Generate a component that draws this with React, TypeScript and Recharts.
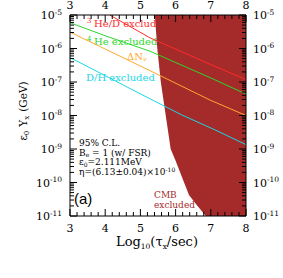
import { Area, ComposedChart, Customized, Line, XAxis, YAxis } from "recharts";

// BBN / CMB 제한 그림 (a) — log10 값으로 그리고 눈금은 10^n 으로 표기
const RED = "#ff2a2a";
const GREEN = "#2ed62e";
const ORANGE = "#ffa830";
const CYAN = "#1ad6e6";
const CMB = "#a52a2a";
const SERIF = "DejaVu Serif";

// 눈금
const xMajor = [3, 4, 5, 6, 7, 8];
const yMajor = [-11, -10, -9, -8, -7, -6, -5];
const yMinorMant = [2, 3, 4, 5, 6, 7, 8, 9];

const xTicks: number[] = [];
for (let i = 0; i <= (xMajor[xMajor.length - 1] - xMajor[0]) * 5; i++)
  xTicks.push(Math.round((xMajor[0] + i * 0.2) * 10) / 10);
const yTicks: number[] = [...yMajor];
yMajor.slice(0, -1).forEach((d) => yMinorMant.forEach((m) => yTicks.push(d + Math.log10(m))));

// CMB excluded 경계 (log10 τ, log10 εY 하한)
const cmbTau = [5.41, 5.48, 5.58, 5.72, 5.86, 6.0, 6.13, 6.38, 6.6, 6.86, 8];
const cmbLow = [-5, -6, -7, -8, -9, -9.35, -9.7, -10.37, -10.67, -11, -11];

// 선들 (log10 τ, log10 εY)
const heDTau = [4.13, 5.27, 6.98, 8];
const heDLog = [-5, -5.68, -6.47, -6.93];
const he4Tau = [3, 4, 5.27, 6.98, 8];
const he4Log = [-5.23, -5.62, -6.08, -6.87, -7.36];
const dnTau = [3, 5.27, 6.98, 8];
const dnLog = [-5.51, -6.66, -7.54, -8.0];
const dhTau = [3, 5.27, 6.17, 7.12, 8];
const dhLog = [-6.27, -7.5, -7.98, -8.43, -8.87];

const rows = (xs: number[], ys: number[]) => xs.map((tau, i) => ({ tau, v: ys[i] }));
const cmbRows = cmbTau.map((tau, i) => ({ tau, range: [cmbLow[i], -5] }));

const isMajor = (v: number) => Math.abs(v - Math.round(v)) < 1e-6;

function Pow({ n, x, y, anchor }: { n: number; x: number; y: number; anchor: "start" | "end" }) {
  return (
    <text x={x} y={y} textAnchor={anchor} fontFamily={SERIF} fontSize={11} fill="#000">
      10
      <tspan dy={-4.5} fontSize={7.5}>
        {`-${Math.abs(Math.round(n))}`}
      </tspan>
    </text>
  );
}

function AxisTick(props: any) {
  const { x, y, payload, side } = props;
  const v = payload.value as number;
  const major = isMajor(v);
  const len = major ? 7 : 4;
  if (side === "bottom" || side === "top") {
    const dir = side === "bottom" ? -1 : 1;
    return (
      <g>
        <line x1={x} y1={y} x2={x} y2={y + dir * len} stroke="#000" />
        {major && (
          <text
            x={x}
            y={side === "bottom" ? y + 16 : y - 6}
            textAnchor="middle"
            fontFamily={SERIF}
            fontSize={11}
            fill="#000"
          >
            {Math.round(v)}
          </text>
        )}
      </g>
    );
  }
  const dir = side === "left" ? 1 : -1;
  return (
    <g>
      <line x1={x} y1={y} x2={x + dir * len} y2={y} stroke="#000" />
      {major &&
        (side === "left" ? (
          <Pow n={v} x={x - 8} y={y + 4} anchor="end" />
        ) : (
          <Pow n={v} x={x + 7} y={y + 4} anchor="start" />
        ))}
    </g>
  );
}

function Notes() {
  return (
    <g fontFamily={SERIF}>
      {/* 색 라벨 */}
      <text x={87} y={23} fontSize={7} fill={RED}>3</text>
      <text x={94} y={26.7} fontSize={10} fill={RED}>He/D excluded</text>
      <text x={87} y={41} fontSize={7} fill={GREEN}>4</text>
      <text x={94} y={44.7} fontSize={10} fill={GREEN}>He excluded</text>
      <text x={127} y={59.7} fontSize={10} fill={ORANGE}>
        ΔN<tspan dy={1.5} fontSize={6.5}>ν</tspan>
      </text>
      <text x={86} y={80.7} fontSize={10} fill={CYAN}>D/H excluded</text>

      {/* 조건 */}
      <text x={79} y={146} fontSize={9} fill="#000">95% C.L.</text>
      <text x={79} y={155.5} fontSize={9} fill="#000">
        B<tspan dy={1.5} fontSize={6}>e</tspan>
        <tspan dy={-1.5}> = 1 (w/ FSR)</tspan>
      </text>
      <text x={79} y={165} fontSize={9} fill="#000">
        ε<tspan dy={1.5} fontSize={6}>0</tspan>
        <tspan dy={-1.5}>=2.111MeV</tspan>
      </text>
      <text x={79} y={174.5} fontSize={9} fill="#000">
        η=(6.13±0.04)×10<tspan dy={-3} fontSize={6}>-10</tspan>
      </text>
      <text x={74} y={204} fontSize={15} fontFamily="Liberation Sans" fill="#000">(a)</text>
      <text x={154} y={198} fontSize={9} fill={CMB}>CMB</text>
      <text x={154} y={208} fontSize={9} fill={CMB}>excluded</text>

      {/* 축 제목 */}
      <text x={157} y={246} textAnchor="middle" fontSize={13} fill="#000">
        Log<tspan dy={2.5} fontSize={7.5}>10</tspan>
        <tspan dy={-2.5}>(τ</tspan>
        <tspan dy={2.5} fontSize={7.5}>x</tspan>
        <tspan dy={-2.5}>/sec)</tspan>
      </text>
      <text transform="translate(27,111) rotate(-90)" textAnchor="middle" fontSize={10.5} fill="#000">
        ε<tspan dy={2} fontSize={7}>0</tspan>
        <tspan dy={-2} dx={4}>Y</tspan>
        <tspan dy={2} fontSize={7}>x</tspan>
        <tspan dy={-2} dx={4}>(GeV)</tspan>
      </text>
    </g>
  );
}

export default function App() {
  return (
    <div style={{ position: "absolute", left: 0, top: 0, width: 283, height: 278, background: "#fff" }}>
      <ComposedChart width={283} height={278} margin={{ top: 0, right: 0, bottom: 0, left: 0 }}>
        <XAxis
          xAxisId="b"
          type="number"
          dataKey="tau"
          domain={[3, 8]}
          allowDataOverflow
          ticks={xTicks}
          interval={0}
          height={62}
          tickSize={0}
          tickMargin={0}
          tickLine={false}
          axisLine={{ stroke: "#000" }}
          tick={(p: any) => <AxisTick {...p} side="bottom" />}
        />
        <XAxis
          xAxisId="t"
          orientation="top"
          type="number"
          dataKey="tau"
          domain={[3, 8]}
          allowDataOverflow
          ticks={xTicks}
          interval={0}
          height={15}
          tickSize={0}
          tickMargin={0}
          tickLine={false}
          axisLine={{ stroke: "#000" }}
          tick={(p: any) => <AxisTick {...p} side="top" />}
        />
        <YAxis
          yAxisId="l"
          type="number"
          domain={[-11, -5]}
          allowDataOverflow
          ticks={yTicks}
          interval={0}
          width={70}
          tickSize={0}
          tickMargin={0}
          tickLine={false}
          axisLine={{ stroke: "#000" }}
          tick={(p: any) => <AxisTick {...p} side="left" />}
        />
        <YAxis
          yAxisId="r"
          orientation="right"
          type="number"
          domain={[-11, -5]}
          allowDataOverflow
          ticks={yTicks}
          interval={0}
          width={37}
          tickSize={0}
          tickMargin={0}
          tickLine={false}
          axisLine={{ stroke: "#000" }}
          tick={(p: any) => <AxisTick {...p} side="right" />}
        />
        <Area
          xAxisId="b"
          yAxisId="l"
          data={cmbRows}
          dataKey="range"
          type="linear"
          stroke="none"
          fill={CMB}
          fillOpacity={1}
          isAnimationActive={false}
        />
        <Line xAxisId="b" yAxisId="l" data={rows(heDTau, heDLog)} dataKey="v" type="linear" stroke={RED} strokeWidth={1} dot={false} isAnimationActive={false} />
        <Line xAxisId="b" yAxisId="l" data={rows(he4Tau, he4Log)} dataKey="v" type="linear" stroke={GREEN} strokeWidth={1} dot={false} isAnimationActive={false} />
        <Line xAxisId="b" yAxisId="l" data={rows(dnTau, dnLog)} dataKey="v" type="linear" stroke={ORANGE} strokeWidth={1} dot={false} isAnimationActive={false} />
        <Line xAxisId="b" yAxisId="l" data={rows(dhTau, dhLog)} dataKey="v" type="linear" stroke={CYAN} strokeWidth={1} dot={false} isAnimationActive={false} />
        {/* 위/오른쪽 축 도메인용 투명 계열 */}
        <Line xAxisId="t" yAxisId="r" data={rows(dnTau, dnLog)} dataKey="v" stroke="none" dot={false} activeDot={false} legendType="none" isAnimationActive={false} />
        <Customized component={Notes} />
      </ComposedChart>
    </div>
  );
}
